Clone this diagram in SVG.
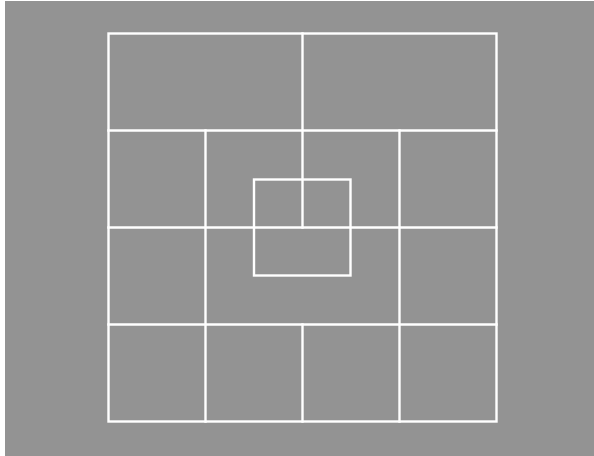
<svg xmlns="http://www.w3.org/2000/svg" width="594" height="456" viewBox="0 0 594 456">
<style>
.ln{stroke:#ffffff;stroke-width:2.4;fill:none;stroke-linecap:square}
</style>
<rect x="0" y="0" width="594" height="456" fill="#ffffff"/>
<rect x="5" y="1" width="589" height="455" fill="#939393"/>
<g id="grid">
<rect class="ln" x="108.5" y="33.5" width="388" height="388"/>
<line class="ln" x1="108.5" y1="130.5" x2="496.5" y2="130.5"/>
<line class="ln" x1="108.5" y1="227.5" x2="496.5" y2="227.5"/>
<line class="ln" x1="108.5" y1="324.5" x2="496.5" y2="324.5"/>
<line class="ln" x1="205.5" y1="130.5" x2="205.5" y2="421.5"/>
<line class="ln" x1="399.5" y1="130.5" x2="399.5" y2="421.5"/>
<line class="ln" x1="302.5" y1="33.5" x2="302.5" y2="227.5"/>
<line class="ln" x1="302.5" y1="324.5" x2="302.5" y2="421.5"/>
</g>
<g id="center">
<rect class="ln" x="254" y="179.5" width="96.5" height="96"/>
</g>
</svg>
